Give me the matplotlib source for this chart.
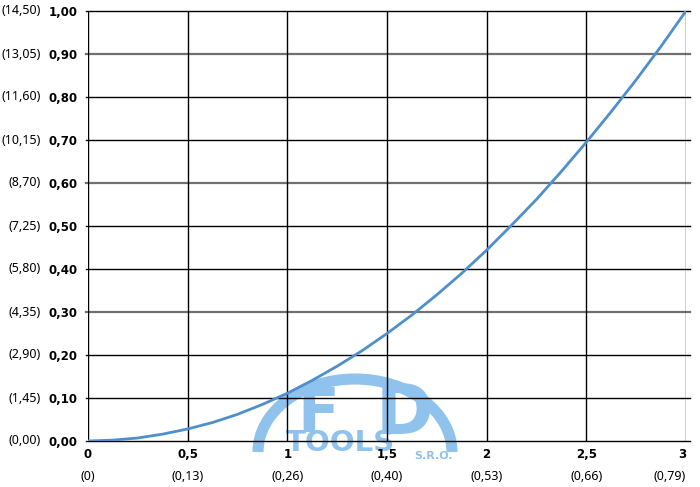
import matplotlib
matplotlib.use("Agg")
import matplotlib.pyplot as plt
from matplotlib.patches import Arc
import numpy as np

# ---- data ----
x_vals = [0, 0.125, 0.25, 0.375, 0.5, 0.625, 0.75, 0.875, 1.0, 1.125, 1.25, 1.375,
          1.5, 1.625, 1.75, 1.875, 2.0, 2.125, 2.25, 2.375, 2.5, 2.625, 2.75, 2.875, 3.0]
y_vals = [0.0, 0.002, 0.007, 0.016, 0.028, 0.043, 0.062, 0.085, 0.111, 0.141, 0.174, 0.21,
          0.25, 0.293, 0.34, 0.39, 0.444, 0.502, 0.562, 0.627, 0.695, 0.766, 0.84, 0.918, 1.0]

y_ticks = [0.0, 0.1, 0.2, 0.3, 0.4, 0.5, 0.6, 0.7, 0.8, 0.9, 1.0]
y_labels = ["0,00", "0,10", "0,20", "0,30", "0,40", "0,50", "0,60", "0,70", "0,80", "0,90", "1,00"]
y_labels2 = ["(0,00)", "(1,45)", "(2,90)", "(4,35)", "(5,80)", "(7,25)", "(8,70)",
             "(10,15)", "(11,60)", "(13,05)", "(14,50)"]
x_ticks = [0, 0.5, 1, 1.5, 2, 2.5, 3]
x_labels = ["0", "0,5", "1", "1,5", "2", "2,5", "3"]
x_labels2 = ["(0)", "(0,13)", "(0,26)", "(0,40)", "(0,53)", "(0,66)", "(0,79)"]
gray_lines = [0.3, 0.6, 0.9]

FONT = "Noto Sans"
BFONT = "DejaVu Sans"
W, H = 700, 487
fig = plt.figure(figsize=(W / 100, H / 100), dpi=100)
fig.patch.set_facecolor("white")

# ---- watermark logo (behind the chart) ----
lg = fig.add_axes([0, 0, 1, 1], zorder=0)
lg.set_xlim(0, W)
lg.set_ylim(H, 0)
lg.axis("off")
logo_c = "#8fc2ec"
lg.add_patch(Arc((355, 452), 194, 146, theta1=180, theta2=360, lw=8, color=logo_c))
lg.text(318, 416, "F", fontsize=44, fontweight="bold", color=logo_c,
        ha="center", va="center", family="DejaVu Sans")
lg.text(404, 415, "D", fontsize=50, fontweight="bold", color=logo_c,
        ha="center", va="center", family="DejaVu Sans")
lg.text(340, 443, "TOOLS", fontsize=21, fontweight="bold", color=logo_c,
        ha="center", va="center", family="DejaVu Sans")
lg.text(434, 456, "S.R.O.", fontsize=8, fontweight="bold", color=logo_c,
        ha="center", va="center", family="DejaVu Sans")

# ---- main axes ----
L, R, T, B = 88, 686, 11, 441
ax = fig.add_axes([L / W, 1 - B / H, (R - L) / W, (B - T) / H], zorder=1)
ax.set_facecolor("none")
ax.set_xlim(0, 3)
ax.set_ylim(0, 1.0)

for v in y_ticks:
    if any(abs(v - g) < 1e-9 for g in gray_lines):
        ax.plot([-0.01, 3.02], [v, v], color="#707070", lw=1.6, clip_on=False, zorder=2)
    else:
        ax.plot([-0.01, 3.02], [v, v], color="black", lw=1.0, clip_on=False, zorder=2)
for v in x_ticks:
    ax.axvline(v, color="black", lw=1.0, zorder=2)

for s in ax.spines.values():
    s.set_visible(False)

ax.plot(x_vals, y_vals, color="#4f8fcc", lw=2.0, zorder=3, solid_capstyle="round")

ax.set_yticks(y_ticks)
ax.set_yticklabels(y_labels, fontsize=8.5, fontweight="bold", family=BFONT)
ax.tick_params(axis="y", length=0, pad=7.5)
ax.set_xticks(x_ticks)
ax.set_xticklabels([])
ax.tick_params(axis="x", length=0)

yt = ax.get_yaxis_transform()
for v, lab in zip(y_ticks, y_labels2):
    ax.text(-0.0786, v, lab, transform=yt, fontsize=9,
            ha="right", va="center", family=FONT)

xt = ax.get_xaxis_transform()
dy1 = -14 / (B - T)
dy2 = -36 / (B - T)
for v, lab, lab2 in zip(x_ticks, x_labels, x_labels2):
    ha = "center"
    if v == 3:
        ha = "right"
    ax.text(v, dy1, lab, transform=xt, fontsize=8.5, fontweight="bold",
            ha=ha, va="center", family=BFONT)
    ax.text(v, dy2, lab2, transform=xt, fontsize=9,
            ha=ha, va="center", family=FONT)

fig.savefig("out.png", dpi=100)
